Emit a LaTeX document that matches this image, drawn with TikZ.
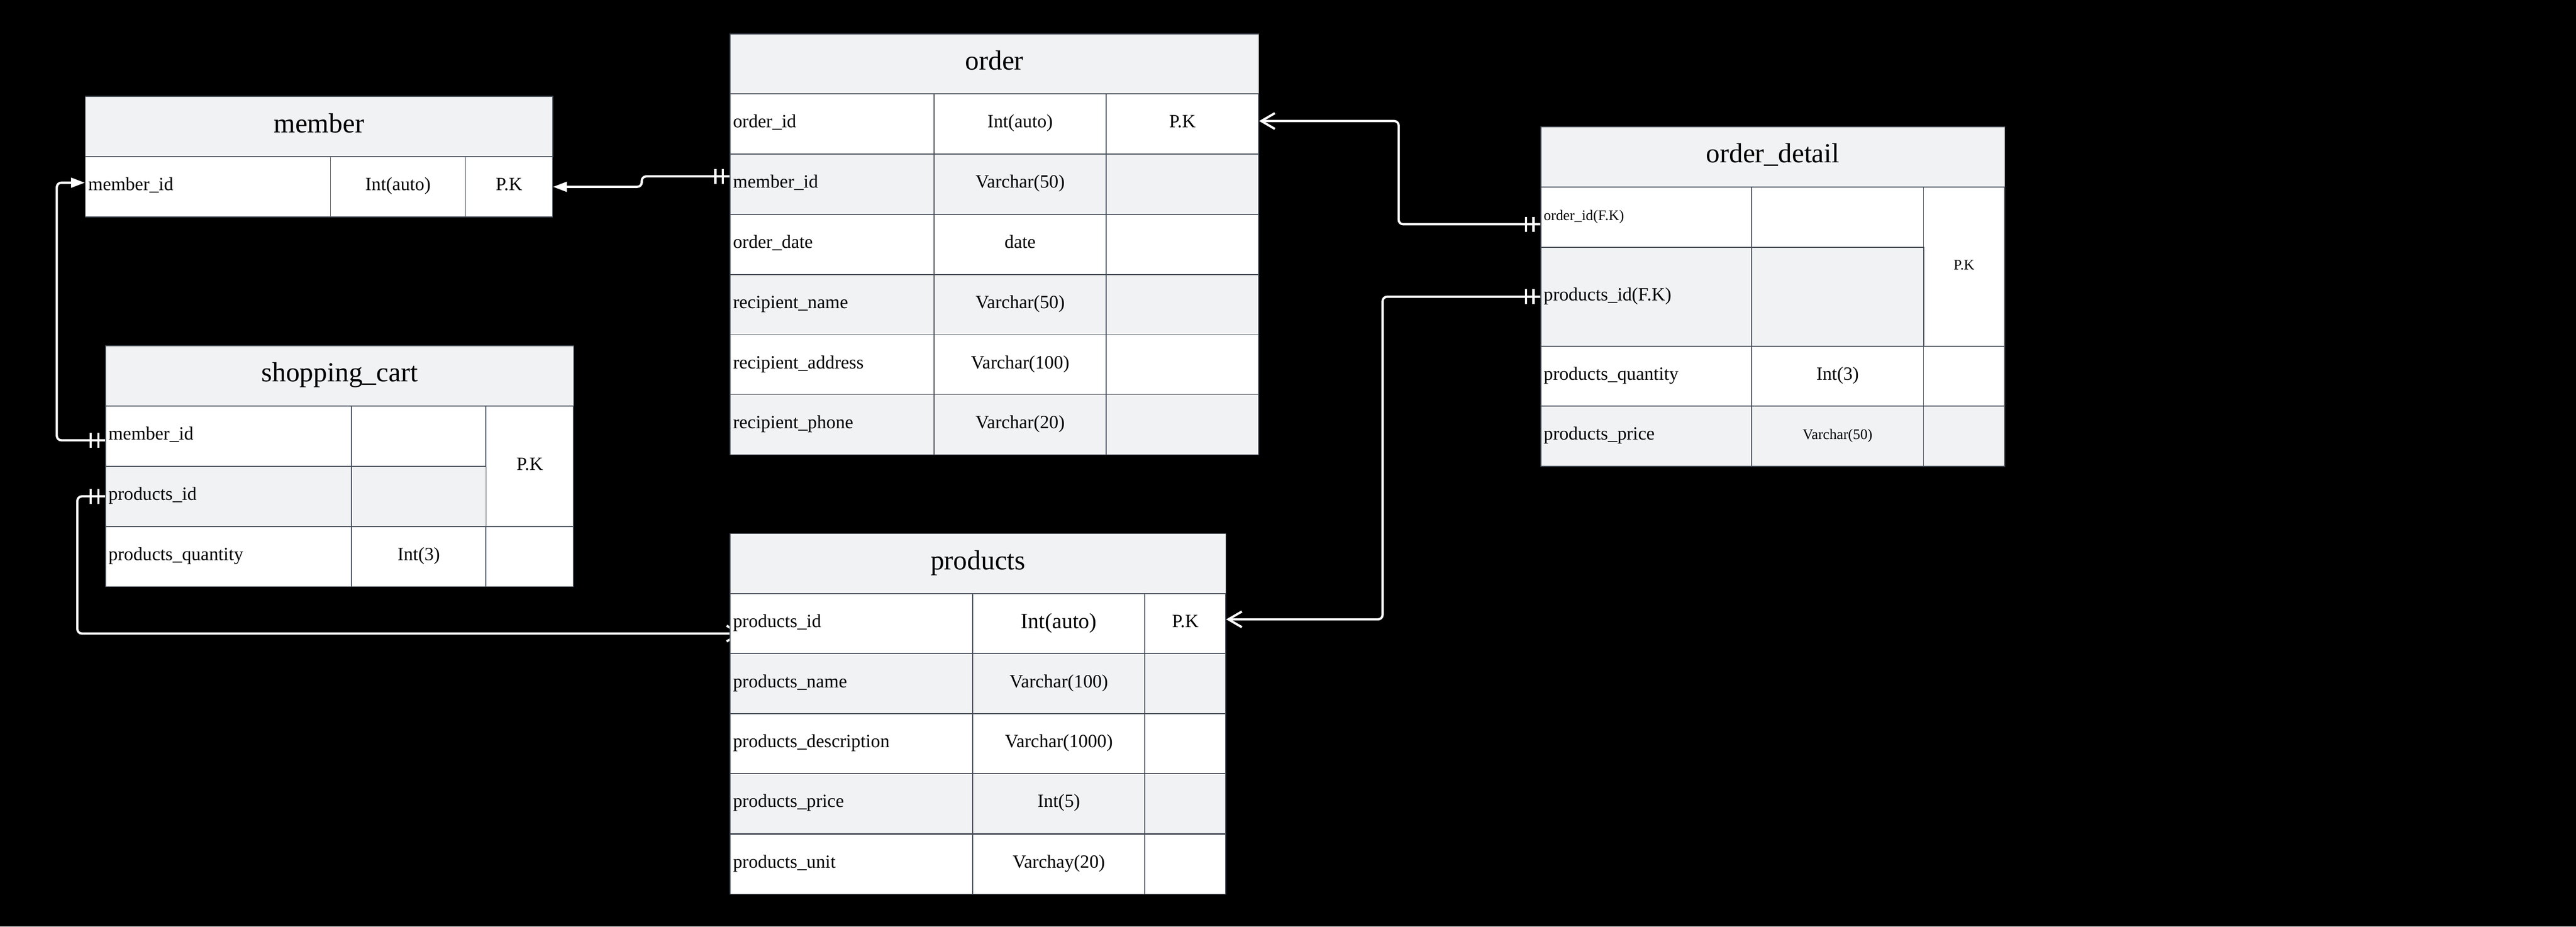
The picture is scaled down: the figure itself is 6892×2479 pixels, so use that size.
\documentclass[tikz,border=0pt]{standalone}
\usepackage{fontspec}
\setmainfont{Liberation Serif}
\usetikzlibrary{arrows.meta,decorations.markings}
\definecolor{edge}{HTML}{454C57}
\definecolor{rowgray}{HTML}{F1F2F4}
\pgfdeclarelayer{bg}
\pgfsetlayers{bg,main}
\begin{document}
\begin{tikzpicture}
	[	x=0.01cm, y=-0.01cm,
	cell/.style={rectangle, draw=edge, line width=0.7pt, fill=white, anchor=north west, inner sep=0pt, minimum height=1.61cm, text height=0.38cm, text depth=0.18cm, font=\fontsize{14.2}{17}\selectfont},
	headbox/.style={cell, fill=rowgray, text height=0.55cm, text depth=0.24cm, font=\fontsize{21}{25}\selectfont},
	namebox/.style={cell, text width=#1, align=left, inner xsep=0.08cm},
	typebox/.style={cell, minimum width=#1},
	grayrow/.style={fill=rowgray},
	smalltext/.style={text height=0.30cm, text depth=0.14cm, font=\fontsize{11.1}{13}\selectfont},
	bigtext/.style={text height=0.44cm, text depth=0.21cm, font=\fontsize{16.5}{19}\selectfont},
	link/.style={draw=white, line width=0.06cm, rounded corners=0.12cm},
	mandone/.style={postaction={decorate, decoration={markings,
		mark=at position 0.18cm with {\draw[-, white, line width=0.06cm] (0,-0.2cm) -- (0,0.2cm);},
		mark=at position 0.38cm with {\draw[-, white, line width=0.06cm] (0,-0.2cm) -- (0,0.2cm);}}}},
	filltip/.style={-{Triangle[length=0.37cm, width=0.26cm]}},
	opentip/.style={-{Straight Barb[length=0.36cm, width=0.42cm]}}
	]
\begin{pgfonlayer}{bg}
	\fill[black] (0,0) rectangle (6892,2479);
\end{pgfonlayer}
\useasboundingbox (0,0) rectangle (6892,2479);
% member
	\node[headbox, minimum width=12.50cm] (mh) at (227,257) {member};
	\node[namebox=6.40cm] (m1a) at (227,418) {member\_id};
	\node[typebox=3.61cm] (m1b) at (883,418) {Int(auto)};
	\node[typebox=2.33cm] (m1c) at (1244,418) {P.K};
% order
	\node[headbox, minimum width=14.14cm, minimum height=1.60cm] (oh) at (1952,90) {order};
	\node[namebox=5.30cm] (o1a) at (1952,250) {order\_id};
	\node[typebox=4.60cm] (o1b) at (2498,250) {Int(auto)};
	\node[typebox=4.08cm] (o1c) at (2958,250) {P.K};
	\node[namebox=5.30cm, grayrow] (o2a) at (1952,411) {member\_id};
	\node[typebox=4.60cm, grayrow] (o2b) at (2498,411) {Varchar(50)};
	\node[typebox=4.08cm, grayrow] (o2c) at (2958,411) {};
	\node[namebox=5.30cm] (o3a) at (1952,572) {order\_date};
	\node[typebox=4.60cm] (o3b) at (2498,572) {date};
	\node[typebox=4.08cm] (o3c) at (2958,572) {};
	\node[namebox=5.30cm, grayrow] (o4a) at (1952,733) {recipient\_name};
	\node[typebox=4.60cm, grayrow] (o4b) at (2498,733) {Varchar(50)};
	\node[typebox=4.08cm, grayrow] (o4c) at (2958,733) {};
	\node[namebox=5.30cm] (o5a) at (1952,894) {recipient\_address};
	\node[typebox=4.60cm] (o5b) at (2498,894) {Varchar(100)};
	\node[typebox=4.08cm] (o5c) at (2958,894) {};
	\node[namebox=5.30cm, grayrow] (o6a) at (1952,1054) {recipient\_phone};
	\node[typebox=4.60cm, grayrow] (o6b) at (2498,1054) {Varchar(20)};
	\node[typebox=4.08cm, grayrow] (o6c) at (2958,1054) {};
% shopping_cart
	\node[headbox, minimum width=12.52cm] (sh) at (281,924) {shopping\_cart};
	\node[namebox=6.42cm] (s1a) at (281,1085) {member\_id};
	\node[typebox=3.60cm] (s1b) at (939,1085) {};
	\node[typebox=2.34cm, minimum height=3.22cm] (s12c) at (1299,1085) {P.K};
	\node[namebox=6.42cm, grayrow] (s2a) at (281,1246) {products\_id};
	\node[typebox=3.60cm, grayrow] (s2b) at (939,1246) {};
	\node[namebox=6.42cm] (s3a) at (281,1407) {products\_quantity};
	\node[typebox=3.60cm] (s3b) at (939,1407) {Int(3)};
	\node[typebox=2.34cm] (s3c) at (1299,1407) {};
% order_detail
	\node[headbox, minimum width=12.41cm] (dh) at (4121,338) {order\_detail};
	\node[namebox=5.48cm, smalltext] (d1a) at (4121,499) {order\_id(F.K)};
	\node[typebox=4.60cm] (d1b) at (4685,499) {};
	\node[typebox=2.17cm, minimum height=4.26cm, smalltext] (d12c) at (5145,499) {P.K};
	\node[namebox=5.48cm, grayrow, minimum height=2.65cm] (d2a) at (4121,660) {products\_id(F.K)};
	\node[typebox=4.60cm, grayrow, minimum height=2.65cm] (d2b) at (4685,660) {};
	\node[namebox=5.48cm] (d3a) at (4121,925) {products\_quantity};
	\node[typebox=4.60cm] (d3b) at (4685,925) {Int(3)};
	\node[typebox=2.17cm] (d3c) at (5145,925) {};
	\node[namebox=5.48cm, grayrow] (d4a) at (4121,1085) {products\_price};
	\node[typebox=4.60cm, grayrow, smalltext] (d4b) at (4685,1085) {Varchar(50)};
	\node[typebox=2.17cm, grayrow] (d4c) at (5145,1085) {};
% products
	\node[headbox, minimum width=13.26cm] (ph) at (1952,1426) {products};
	\node[namebox=6.33cm] (p1a) at (1952,1587) {products\_id};
	\node[typebox=4.61cm, bigtext] (p1b) at (2601,1587) {Int(auto)};
	\node[typebox=2.16cm] (p1c) at (3062,1587) {P.K};
	\node[namebox=6.33cm, grayrow] (p2a) at (1952,1747) {products\_name};
	\node[typebox=4.61cm, grayrow] (p2b) at (2601,1747) {Varchar(100)};
	\node[typebox=2.16cm, grayrow] (p2c) at (3062,1747) {};
	\node[namebox=6.33cm] (p3a) at (1952,1908) {products\_description};
	\node[typebox=4.61cm] (p3b) at (2601,1908) {Varchar(1000)};
	\node[typebox=2.16cm] (p3c) at (3062,1908) {};
	\node[namebox=6.33cm, grayrow] (p4a) at (1952,2068) {products\_price};
	\node[typebox=4.61cm, grayrow] (p4b) at (2601,2068) {Int(5)};
	\node[typebox=2.16cm, grayrow] (p4c) at (3062,2068) {};
	\node[namebox=6.33cm] (p5a) at (1952,2230) {products\_unit};
	\node[typebox=4.61cm] (p5b) at (2601,2230) {Varchay(20)};
	\node[typebox=2.16cm] (p5c) at (3062,2230) {};
% relations
\begin{pgfonlayer}{bg}
	\draw[link, mandone, filltip] ([yshift=-0.11cm]s1a.west) -- ++(-129,0) |- ([yshift=0.11cm]m1a.west);
	\draw[link, mandone, filltip] ([yshift=0.21cm]o2a.west) -- ++(-235,0) |- (m1c.east);
	\draw[link, mandone, opentip] ([yshift=-0.19cm]d1a.west) -- ++(-379,0) |- ([yshift=0.08cm]o1c.east);
	\draw[link, mandone, opentip] (d2a.west) -- ++(-422,0) |- ([yshift=0.12cm]p1c.east);
	\draw[link, mandone, opentip] (s2a.west) -- ++(-74,0) |- ([xshift=0.34cm, yshift=-0.26cm]p1a.west);
\end{pgfonlayer}
\end{tikzpicture}
\end{document}
